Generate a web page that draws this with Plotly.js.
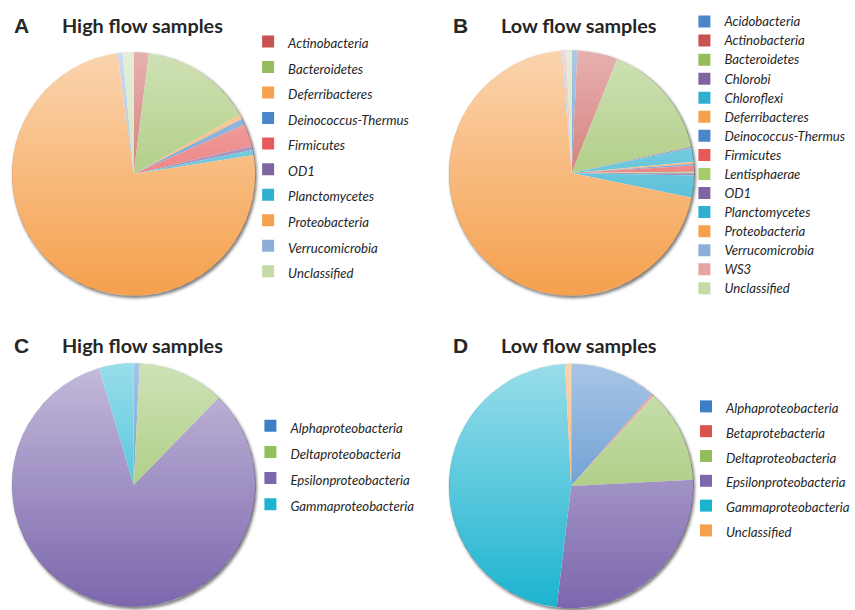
<!DOCTYPE html>
<html>
<head>
<meta charset="utf-8">
<script src="https://cdn.plot.ly/plotly-3.0.1.min.js"></script>
<style>html,body{margin:0;padding:0;background:#fff}#chart{width:855px;height:610px}</style>
</head>
<body>
<div id="chart"></div>
<script>
// ---- data (percent of reads) ----
const phylaHigh = ["Actinobacteria","Bacteroidetes","Deferribacteres","Deinococcus-Thermus","Firmicutes","OD1","Planctomycetes","Proteobacteria","Verrucomicrobia","Unclassified"];
const valuesHigh = [2.0, 14.9, 0.6, 0.85, 2.95, 0.55, 0.65, 75.4, 0.65, 1.45];

const phylaLow = ["Acidobacteria","Actinobacteria","Bacteroidetes","Chlorobi","Chloroflexi","Deferribacteres","Deinococcus-Thermus","Firmicutes","Lentisphaerae","OD1","Planctomycetes","Proteobacteria","Verrucomicrobia","WS3","Unclassified"];
const valuesLow = [0.75, 5.3, 15.5, 0.2, 1.8, 0.25, 0.25, 0.8, 0.2, 0.3, 2.9, 70.5, 0.2, 0.4, 0.7];

const classesHigh = ["Alphaproteobacteria","Deltaproteobacteria","Epsilonproteobacteria","Gammaproteobacteria"];
const valuesClassHigh = [0.8, 11.5, 83.1, 4.6];

const classesLow = ["Alphaproteobacteria","Betaprotebacteria","Deltaproteobacteria","Epsilonproteobacteria","Gammaproteobacteria","Unclassified"];
const valuesClassLow = [11.5, 0.3, 12.4, 27.7, 47.3, 0.8];

const panelLetters = ["A","B","C","D"];
const panelTitles = ["High flow samples","Low flow samples","High flow samples","Low flow samples"];

// ---- styles ----
const phylumColors = {
  "Acidobacteria":"#4A86C8","Actinobacteria":"#C8524F","Bacteroidetes":"#96BD5C","Chlorobi":"#8064A2",
  "Chloroflexi":"#2FB0CF","Deferribacteres":"#F5A04C","Deinococcus-Thermus":"#4A86C8","Firmicutes":"#E65A5A",
  "Lentisphaerae":"#A8CC6A","OD1":"#8064A2","Planctomycetes":"#2FB0CF","Proteobacteria":"#F5A04C",
  "Verrucomicrobia":"#8EAEDA","WS3":"#E8A3A3","Unclassified":"#C4DBA6"
};
const classColors = {
  "Alphaproteobacteria":"#3D7FC6","Betaprotebacteria":"#D9534F","Deltaproteobacteria":"#93BE5C",
  "Epsilonproteobacteria":"#7C67AD","Gammaproteobacteria":"#1BB3CF","Unclassified":"#F5A04C"
};
const W = 855, H = 610;
const boxes = [[12,256,52,296],[450,696,50,296],[12,256,363,607],[450,695,363.5,608.5]];
function dom(b){ return {x:[b[0]/W, b[1]/W], y:[1 - b[3]/H, 1 - b[2]/H]}; }
// per-panel label markup (distinct strings so each legend keeps its own entries)
function lab(names, k){ return names.map(n => '<span style="font-size:13.2px' + ';'.repeat(k) + '">' + n + '</span>'); }

function pie(names, values, colors, k, legendId){
  return {
    type:'pie', labels: lab(names, k), values: values, sort:false, direction:'clockwise', rotation:0,
    marker:{colors: names.map(n => colors[n]), line:{width:0}},
    textinfo:'none', hoverinfo:'label+percent', domain: dom(boxes[k]), legend: legendId, showlegend:true
  };
}

const data = [
  pie(phylaHigh, valuesHigh, phylumColors, 0, 'legend'),
  pie(phylaLow, valuesLow, phylumColors, 1, 'legend2'),
  pie(classesHigh, valuesClassHigh, classColors, 2, 'legend3'),
  pie(classesLow, valuesClassLow, classColors, 3, 'legend4')
];

function legend(xLeft, yTop, size){
  return {x: xLeft/W, y: 1 - yTop/H, xanchor:'left', yanchor:'top', bgcolor:'rgba(0,0,0,0)',
    borderwidth:0, itemwidth:30,
    font:{family:'Lato, "Open Sans", sans-serif', size:size, style:'italic', color:'#262626'}};
}

const titlePos = [[12,60,25],[452,500,25],[12,60,345],[452,500,345]];
const annotations = [];
titlePos.forEach((p,i) => {
  annotations.push({xref:'paper', yref:'paper', x:p[0]/W, y:1-p[2]/H, xanchor:'left', yanchor:'middle',
    text:'<b>'+panelLetters[i]+'</b>', showarrow:false,
    font:{family:'"Liberation Sans", Arial, sans-serif', size:21, color:'#262626'}});
  annotations.push({xref:'paper', yref:'paper', x:p[1]/W, y:1-p[2]/H, xanchor:'left', yanchor:'middle',
    text:'<b>'+panelTitles[i]+'</b>', showarrow:false,
    font:{family:'Lato, "Open Sans", sans-serif', size:19.8, color:'#262626'}});
});

// Excel-style shading: light-to-base vertical gradient over each pie, soft drop shadow outside its rim
const shadeSvg = 'data:image/svg+xml;utf8,' + encodeURIComponent(
  '<svg xmlns="http://www.w3.org/2000/svg" viewBox="0 0 100 100" preserveAspectRatio="none">' +
  '<defs><linearGradient id="g" x1="0" y1="0" x2="0" y2="1">' +
  '<stop offset="0" stop-color="#fff" stop-opacity="0.55"/><stop offset="1" stop-color="#fff" stop-opacity="0"/>' +
  '</linearGradient></defs><circle cx="50" cy="50" r="50" fill="url(#g)"/></svg>');
const shadowSvg = 'data:image/svg+xml;utf8,' + encodeURIComponent(
  '<svg xmlns="http://www.w3.org/2000/svg" viewBox="-10 -10 120 120" preserveAspectRatio="none">' +
  '<defs><filter id="b" x="-20%" y="-20%" width="140%" height="140%"><feGaussianBlur stdDeviation="0.55"/></filter>' +
  '<mask id="m" maskUnits="userSpaceOnUse" x="-10" y="-10" width="120" height="120">' +
  '<rect x="-10" y="-10" width="120" height="120" fill="#fff"/><circle cx="50" cy="50" r="49.9" fill="#000"/></mask></defs>' +
  '<g mask="url(#m)"><circle cx="50.55" cy="50.8" r="50.1" fill="#000" fill-opacity="0.5" filter="url(#b)"/></g></svg>');
const images = [];
boxes.forEach(b => {
  const w = b[1]-b[0], h = b[3]-b[2];
  images.push({source: shadeSvg, xref:'paper', yref:'paper', x:b[0]/W, y:1-b[2]/H,
    sizex: w/W, sizey: h/H, xanchor:'left', yanchor:'top', sizing:'stretch', layer:'above'});
  images.push({source: shadowSvg, xref:'paper', yref:'paper', x:(b[0]-w/10)/W, y:1-(b[2]-h/10)/H,
    sizex: w*1.2/W, sizey: h*1.2/H, xanchor:'left', yanchor:'top', sizing:'stretch', layer:'above'});
});

const layout = {
  width:W, height:H, margin:{l:0,r:0,t:0,b:0}, paper_bgcolor:'#fff', plot_bgcolor:'rgba(0,0,0,0)',
  showlegend:true,
  legend: legend(248.7, 23.6, 17.35),
  legend2: legend(686, 7.0, 12.35),
  legend3: legend(251, 407.8, 17.77),
  legend4: legend(687.7, 389.0, 16.77),
  annotations: annotations,
  images: images
};
Plotly.newPlot('chart', data, layout, {displayModeBar:false, staticPlot:true});
</script>
</body>
</html>
